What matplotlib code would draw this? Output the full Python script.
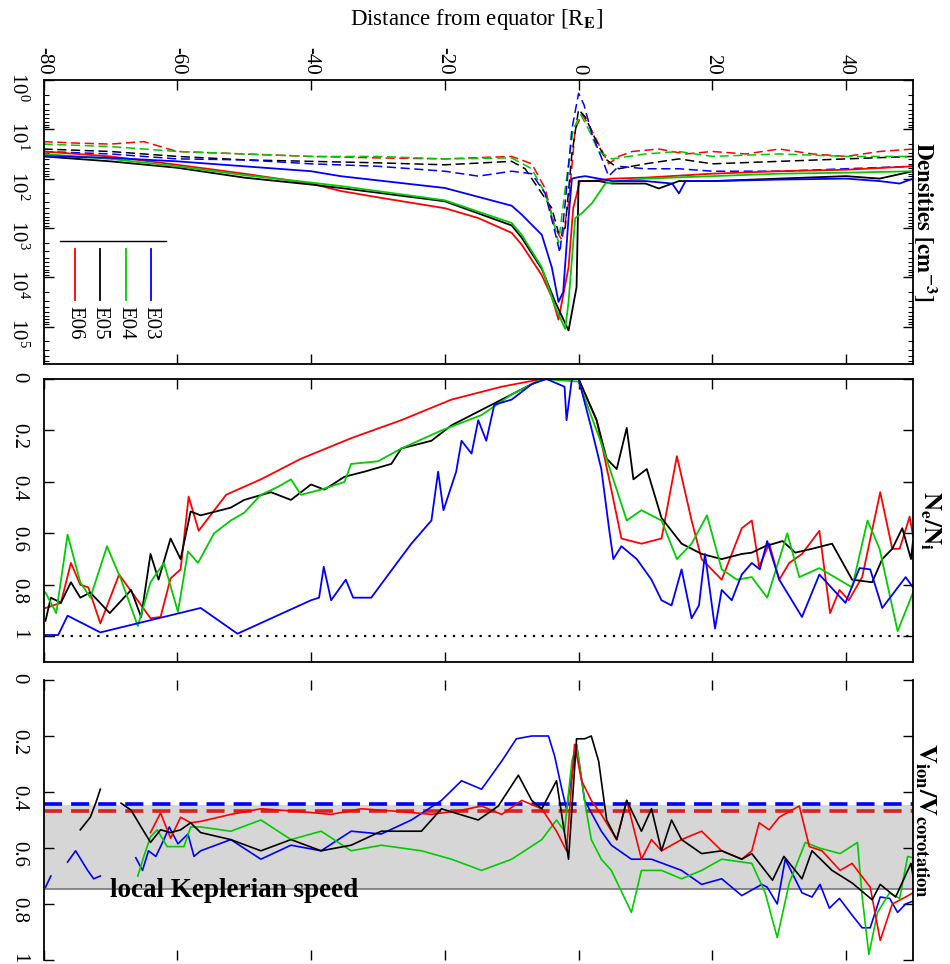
import numpy as np
import matplotlib
matplotlib.use("Agg")
import matplotlib.pyplot as plt
from matplotlib.ticker import LogLocator, NullFormatter, FixedLocator

plt.rcParams['font.family'] = ['Liberation Serif', 'DejaVu Serif']
plt.rcParams['mathtext.fontset'] = 'stix'
plt.rcParams['axes.unicode_minus'] = False

RED, BLACK, GREEN, BLUE = '#ff0000', '#000000', '#00cc00', '#0000ff'
series_names = ['E06', 'E05', 'E04', 'E03']
series_colors = [RED, BLACK, GREEN, BLUE]

# ---------------- Panel 1: densities (log10 of cm^-3) ----------------
d_red_x = [-80, -70, -60, -50, -40, -35.6, -30, -20, -15, -10, -8.5, -5.5, -4, -3, -1.5, -0.8, 0.2, 2, 5, 10, 20, 30, 40, 50]
d_red_y = [1.45, 1.55, 1.72, 1.9, 2.1, 2.25, 2.38, 2.6, 2.8, 3.1, 3.34, 3.96, 4.4, 4.86, 3.8, 2.6, 2.05, 2.05, 2.0, 1.98, 1.9, 1.85, 1.82, 1.75]
d_blk_x = [-80, -70, -60, -50, -40, -35.6, -20, -10, -8.5, -5.5, -3.5, -1.5, -0.3, 0, 1, 3, 5, 10, 12, 15, 20, 30, 40, 45, 50]
d_blk_y = [1.55, 1.65, 1.78, 1.98, 2.12, 2.19, 2.46, 2.95, 3.2, 3.83, 4.5, 5.08, 4.2, 2.05, 2.05, 2.05, 2.1, 2.1, 2.2, 2.05, 2.05, 2.0, 1.95, 2.0, 1.85]
d_grn_x = [-80, -70, -60, -50, -40, -35.6, -20, -10, -8.5, -5.5, -3.5, -2, -1.5, -0.5, 0.5, 2, 4, 6, 10, 20, 30, 40, 50]
d_grn_y = [1.5, 1.6, 1.75, 1.93, 2.08, 2.15, 2.44, 2.9, 3.14, 3.8, 4.6, 5.05, 4.5, 2.8, 2.7, 2.5, 2.1, 2.05, 2.0, 1.95, 1.9, 1.88, 1.85]
d_blu_x = [-80, -70, -60, -50, -40, -35.6, -20, -10, -8.5, -5.5, -4, -3, -2.3, -1.5, -1, 0, 1, 3, 5, 10, 14, 15, 16, 20, 30, 40, 45, 48, 50]
d_blu_y = [1.54, 1.58, 1.65, 1.75, 1.85, 1.95, 2.19, 2.55, 2.73, 3.14, 3.8, 4.5, 4.3, 2.8, 2.0, 1.97, 1.95, 2.0, 2.05, 2.05, 2.1, 2.3, 2.05, 2.05, 2.02, 2.0, 2.05, 2.1, 2.0]

dd_red_x = [-80, -75, -70, -65, -60, -50, -40, -30, -20, -10, -7, -5, -3.5, -2.5, -1.5, -0.5, 0.5, 1.5, 3, 4.5, 6, 8, 12, 16, 20, 25, 30, 35, 40, 45, 50]
dd_red_y = [1.25, 1.28, 1.3, 1.25, 1.45, 1.5, 1.55, 1.58, 1.6, 1.55, 1.7, 2.2, 3.0, 3.25, 2.5, 1.0, 0.7, 0.9, 1.3, 1.7, 1.55, 1.45, 1.4, 1.5, 1.45, 1.5, 1.4, 1.5, 1.55, 1.45, 1.4]
dd_blk_x = [-80, -70, -60, -50, -40, -30, -20, -10, -8, -6, -4, -3, -2, -1, 0, 1, 2.5, 4, 6, 10, 15, 20, 30, 40, 50]
dd_blk_y = [1.4, 1.45, 1.55, 1.62, 1.65, 1.68, 1.72, 1.65, 1.8, 2.2, 2.6, 3.1, 3.0, 1.5, 0.6, 0.75, 1.2, 1.6, 1.8, 1.7, 1.6, 1.7, 1.65, 1.6, 1.55]
dd_grn_x = [-80, -70, -60, -50, -40, -30, -20, -10, -7, -5, -3.5, -3, -2, -0.8, 0.3, 1.5, 3, 5, 10, 15, 20, 30, 40, 50]
dd_grn_y = [1.3, 1.35, 1.45, 1.5, 1.55, 1.55, 1.6, 1.58, 1.8, 2.3, 3.0, 3.3, 2.2, 1.0, 0.7, 1.0, 1.45, 1.6, 1.5, 1.45, 1.55, 1.5, 1.55, 1.55]
dd_blu_x = [-80, -70, -60, -50, -40, -30, -20, -15, -10, -7, -5, -3.5, -2.8, -2, -1, 0, 0.8, 2, 3.5, 4.5, 6, 10, 15, 20, 30, 40, 50]
dd_blu_y = [1.45, 1.5, 1.6, 1.62, 1.7, 1.75, 1.85, 1.95, 1.85, 1.9, 2.3, 3.1, 3.5, 2.5, 1.0, 0.27, 0.5, 1.1, 1.6, 1.95, 1.75, 1.8, 1.8, 1.85, 1.85, 1.8, 1.75]

# ---------------- Panel 2: Ne/Ni ----------------
r_red_x = [-79.7, -77.4, -75.9, -74.5, -73.3, -71.5, -68.7, -64.0, -62.5, -61.0, -59.5, -58.3, -56.8, -52.7, -47.5, -41.5, -34.0, -26.5, -19.0, -11.5, -5.5, 0, 2.7, 4.9, 6.4, 9.4, 12.4, 14.7, 16.9, 18.4, 21.4, 24.4, 25.9, 27.0, 28.5, 30.0, 31.5, 33.4, 36.0, 37.6, 39.0, 40.4, 42.4, 45.1, 46.9, 48.0, 49.5, 50]
r_red_y = [0.89, 0.87, 0.715, 0.80, 0.81, 0.95, 0.76, 0.93, 0.925, 0.775, 0.74, 0.457, 0.59, 0.45, 0.39, 0.31, 0.23, 0.16, 0.08, 0.03, 0.0, 0.0, 0.16, 0.43, 0.62, 0.64, 0.62, 0.30, 0.55, 0.70, 0.78, 0.58, 0.55, 0.73, 0.64, 0.78, 0.715, 0.68, 0.59, 0.91, 0.82, 0.86, 0.77, 0.44, 0.66, 0.66, 0.535, 0.61]
r_blk_x = [-79.7, -78.9, -77.4, -75.9, -74.5, -73.0, -70.1, -66.9, -65.4, -64.0, -62.8, -61.0, -59.5, -58.0, -56.5, -52.0, -50, -46, -43, -40, -38, -35, -32, -28, -26.5, -22, -19, -14.5, -10, -5.5, 0, 2.7, 4.2, 5.7, 7.2, 8.2, 10.2, 12.4, 15.4, 18.4, 21.4, 24.4, 25.9, 27.9, 30.5, 32.4, 34.9, 37.9, 40.9, 43.9, 45.4, 46.9, 48.4, 49.7, 50]
r_blk_y = [0.94, 0.85, 0.87, 0.79, 0.85, 0.83, 0.91, 0.82, 0.925, 0.68, 0.78, 0.62, 0.70, 0.515, 0.53, 0.50, 0.47, 0.44, 0.47, 0.41, 0.43, 0.38, 0.36, 0.33, 0.27, 0.24, 0.18, 0.12, 0.06, 0.0, 0.0, 0.16, 0.31, 0.35, 0.19, 0.39, 0.35, 0.54, 0.64, 0.68, 0.70, 0.68, 0.675, 0.65, 0.63, 0.675, 0.66, 0.64, 0.78, 0.79, 0.70, 0.66, 0.58, 0.70, 0.63]
r_grn_x = [-79.7, -78.1, -76.4, -74.5, -73.0, -70.5, -68.4, -65.9, -64.0, -62.0, -59.9, -58.4, -56.9, -54.5, -52, -50, -47.5, -45, -43, -41.5, -38.5, -35, -34, -30, -26.5, -20.5, -14.5, -10, -5.5, 0, 3.4, 5.7, 7.2, 9.4, 12.4, 14.7, 16.9, 19.2, 21.4, 23.7, 25.9, 28.2, 31.2, 33.0, 36.0, 40.9, 43.2, 45.0, 47.7, 50]
r_grn_y = [0.83, 0.91, 0.605, 0.79, 0.85, 0.65, 0.78, 0.96, 0.79, 0.715, 0.905, 0.67, 0.715, 0.6, 0.55, 0.52, 0.45, 0.42, 0.39, 0.45, 0.43, 0.40, 0.33, 0.32, 0.27, 0.2, 0.14, 0.06, 0.0, 0.01, 0.25, 0.43, 0.55, 0.51, 0.55, 0.70, 0.64, 0.53, 0.74, 0.78, 0.77, 0.85, 0.60, 0.77, 0.735, 0.81, 0.55, 0.66, 0.98, 0.83]
r_blu_x = [-79.7, -77.8, -76.4, -71.5, -56.5, -51.0, -40.0, -38.8, -38.1, -37.0, -34.8, -33.7, -31.0, -27.3, -25.0, -22.0, -21.0, -20.2, -18.3, -17.5, -16.0, -15.0, -13.8, -12.6, -10.0, -7.0, -4.8, -2.1, -1.8, -1.0, 0, 1.9, 3.4, 4.6, 5.2, 6.4, 8.7, 10.9, 12.4, 13.9, 15.4, 16.9, 18.0, 18.9, 20.4, 21.4, 22.9, 24.4, 25.9, 27.1, 28.2, 30.0, 33.4, 36.0, 39.9, 42.0, 43.6, 45.4, 48.9, 50]
r_blu_y = [0.995, 0.995, 0.92, 0.985, 0.89, 0.99, 0.86, 0.85, 0.73, 0.86, 0.78, 0.85, 0.85, 0.72, 0.64, 0.55, 0.36, 0.51, 0.36, 0.24, 0.29, 0.16, 0.24, 0.10, 0.08, 0.02, 0.0, 0.03, 0.16, 0.0, 0.0, 0.19, 0.35, 0.59, 0.70, 0.65, 0.70, 0.78, 0.86, 0.88, 0.74, 0.93, 0.88, 0.68, 0.97, 0.82, 0.86, 0.76, 0.715, 0.74, 0.63, 0.78, 0.925, 0.76, 0.87, 0.735, 0.74, 0.89, 0.77, 0.81]

# ---------------- Panel 3: Vion/Vcorotation ----------------
v_blu_x = [[-79.7, -78.9],
           [-76.4, -75.2, -73.4, -72.5, -71.5],
           [-66.2, -65.2, -64.3, -63.2, -62.0, -61.2, -59.9, -58.4, -57.5, -56.5, -52.0, -47.5, -43.0, -38.5, -34.0, -29.5, -25.0, -20.5, -17.5, -14.5, -11.5, -9.3, -7.0, -4.5, -3.6, -2.5, -1.8, -0.3, 0.9, 3.4, 4.9, 7.9, 10.9, 15.4, 18.4, 21.4, 24.4, 27.4, 28.2, 29.7, 30.9, 33.4, 34.9, 36.1, 37.5, 39.0, 40.9, 42.4, 43.6, 45.1, 46.5, 47.7, 48.9, 50]]
v_blu_y = [[0.74, 0.70],
           [0.65, 0.61, 0.68, 0.71, 0.70],
           [0.635, 0.68, 0.61, 0.63, 0.57, 0.525, 0.585, 0.55, 0.63, 0.61, 0.57, 0.64, 0.59, 0.61, 0.54, 0.55, 0.50, 0.43, 0.36, 0.39, 0.29, 0.21, 0.2, 0.2, 0.27, 0.39, 0.46, 0.23, 0.43, 0.54, 0.59, 0.64, 0.64, 0.68, 0.73, 0.71, 0.77, 0.73, 0.74, 0.8, 0.64, 0.76, 0.775, 0.73, 0.815, 0.78, 0.84, 0.885, 0.885, 0.775, 0.78, 0.83, 0.8, 0.79]]
v_blk_x = [[-74.5, -73.0, -72.2, -71.5],
           [-68.4, -66.9, -65.4, -64.0, -62.5, -61.0, -59.5, -58.0, -56.5, -52.0, -47.5, -43.0, -38.5, -34.0, -29.5, -23.5, -20.5, -15, -12, -9.0, -7.0, -5.5, -3.3, -1.5, -0.3, 0.9, 1.9, 3.0, 4.2, 5.7, 7.2, 9.4, 10.9, 12.4, 13.9, 15.4, 18.4, 21.4, 24.4, 25.9, 29.0, 30.7, 33.4, 34.9, 37.9, 40.9, 43.9, 45.1, 47.4, 49.7, 50]]
v_blk_y = [[0.535, 0.49, 0.44, 0.39],
           [0.44, 0.465, 0.525, 0.58, 0.535, 0.545, 0.535, 0.51, 0.545, 0.57, 0.61, 0.57, 0.61, 0.59, 0.54, 0.54, 0.46, 0.5, 0.45, 0.34, 0.43, 0.46, 0.36, 0.64, 0.21, 0.21, 0.2, 0.29, 0.5, 0.57, 0.43, 0.54, 0.46, 0.61, 0.5, 0.57, 0.62, 0.61, 0.64, 0.62, 0.715, 0.63, 0.71, 0.61, 0.68, 0.725, 0.785, 0.73, 0.775, 0.655, 0.70]]
v_red_x = [[-64.0, -62.5, -61.0, -59.5, -58.0, -56.5, -52.0, -47.5, -41.5, -37.0, -32.5, -26.5, -22.0, -17.5, -14.5, -11.5, -8.5, -5.5, -3.3, -1.8, -0.6, 0.45, 1.9, 3.4, 5.7, 7.2, 9.4, 10.9, 12.4, 15.4, 18.4, 21.4, 24.4, 25.9, 27.0, 28.5, 30.0, 33.0, 34.5, 36.4, 39.1, 40.9, 43.6, 45.1, 46.9, 48.9, 50]]
v_red_y = [[0.545, 0.475, 0.565, 0.49, 0.51, 0.505, 0.48, 0.46, 0.47, 0.48, 0.46, 0.47, 0.48, 0.465, 0.45, 0.48, 0.43, 0.46, 0.54, 0.61, 0.23, 0.36, 0.43, 0.48, 0.57, 0.43, 0.64, 0.57, 0.61, 0.57, 0.54, 0.61, 0.64, 0.61, 0.51, 0.535, 0.49, 0.45, 0.595, 0.61, 0.68, 0.655, 0.74, 0.93, 0.8, 0.775, 0.76]]
v_grn_x = [[-65.9, -65.0, -64.0, -63.0, -61.5, -59.0, -58.0, -56.5, -52.0, -47.5, -43.0, -38.5, -34.0, -29.5, -23.5, -19.0, -14.5, -10.0, -5.5, -3.3, -2.1, -1.0, -0.3, 0.9, 1.9, 3.4, 4.9, 7.9, 9.4, 12.4, 15.4, 18.4, 21.4, 25.9, 27.9, 29.7, 31.5, 33.9, 36.0, 39.1, 41.7, 42.4, 43.4, 44.7, 46.5, 48.0, 49.2, 50]]
v_grn_y = [[0.70, 0.63, 0.56, 0.535, 0.595, 0.595, 0.525, 0.525, 0.54, 0.5, 0.57, 0.54, 0.61, 0.59, 0.61, 0.64, 0.68, 0.64, 0.57, 0.5, 0.54, 0.29, 0.23, 0.43, 0.57, 0.64, 0.68, 0.83, 0.68, 0.68, 0.71, 0.68, 0.64, 0.655, 0.76, 0.92, 0.725, 0.58, 0.6, 0.62, 0.58, 0.775, 0.98, 0.83, 0.76, 0.78, 0.63, 0.635]]

kepler_band = (0.445, 0.745)
coro_blue, coro_red = 0.442, 0.467

xticks = [-80, -60, -40, -20, 0, 20, 40]
xlim = (-80, 50)

fig = plt.figure(figsize=(9.5, 9.64), dpi=100)
L, W = 43.5 / 950, 869.5 / 950
ax1 = fig.add_axes([L, 1 - 364 / 964, W, 284 / 964])
ax2 = fig.add_axes([L, 1 - 662 / 964, W, 283 / 964])
ax3 = fig.add_axes([L, 1 - 960 / 964, W, 280 / 964])

FS = 15
for ax in (ax1, ax2, ax3):
    ax.set_xlim(*xlim)
    ax.set_xticks(xticks)
    ax.tick_params(axis='x', which='both', direction='in', top=True, bottom=True,
                   labelbottom=False, labeltop=False, length=7, width=1)
    ax.tick_params(axis='y', which='major', direction='in', left=True, right=True,
                   length=7, width=1, labelrotation=-90, labelsize=FS, pad=11)
    for s in ax.spines.values():
        s.set_linewidth(1.3)

ax1.tick_params(axis='x', labeltop=True, labelrotation=-90, labelsize=FS, pad=4)

# Panel 1
ax1.set_yscale('log')
ax1.set_ylim(10 ** 5.76, 1)
ax1.yaxis.set_major_locator(FixedLocator([1, 1e1, 1e2, 1e3, 1e4, 1e5]))
ax1.yaxis.set_minor_locator(LogLocator(base=10, subs=np.arange(2, 10)))
ax1.yaxis.set_minor_formatter(NullFormatter())
ax1.tick_params(axis='y', which='minor', direction='in', left=True, right=True, length=3.5, width=0.8)
solid = [(d_red_x, d_red_y), (d_blk_x, d_blk_y), (d_grn_x, d_grn_y), (d_blu_x, d_blu_y)]
dashed = [(dd_red_x, dd_red_y), (dd_blk_x, dd_blk_y), (dd_grn_x, dd_grn_y), (dd_blu_x, dd_blu_y)]
for (xs, ys), c in zip(dashed, series_colors):
    ax1.plot(xs, 10 ** np.array(ys), color=c, lw=1.1, ls=(0, (6, 3)))
for (xs, ys), c in zip(solid, series_colors):
    ax1.plot(xs, 10 ** np.array(ys), color=c, lw=1.3)
# legend (rotated layout)
ax1.plot([0.019, 0.141], [0.433, 0.433], color='black', lw=1, transform=ax1.transAxes)
for i, (name, c) in enumerate(zip(series_names, series_colors)):
    xf = 0.036 + i * 0.0293
    ax1.plot([xf, xf], [0.405, 0.225], color=c, lw=1.3, transform=ax1.transAxes)
    ax1.text(xf, 0.205, name, rotation=-90, ha='center', va='top', fontsize=FS,
             transform=ax1.transAxes)
ax1.text(1.0138, 0.5, r'$\mathbf{Densities\ [cm^{-3}]}$', rotation=-90, ha='center',
         va='center', fontsize=16.5, transform=ax1.transAxes)

# Panel 2
ax2.set_ylim(1.1, 0)
ax2.set_yticks([0, 0.2, 0.4, 0.6, 0.8, 1])
ax2.set_yticklabels(['0', '0.2', '0.4', '0.6', '0.8', '1'])
ax2.plot(list(xlim), [1, 1], color='black', lw=1.6, ls=(0, (1, 3)))
for xs, ys, c in [(r_red_x, r_red_y, RED), (r_blk_x, r_blk_y, BLACK),
                  (r_grn_x, r_grn_y, GREEN), (r_blu_x, r_blu_y, BLUE)]:
    ax2.plot(xs, ys, color=c, lw=1.3)
ax2.text(1.02, 0.5, r'$\mathbf{N_e/N_i}$', rotation=-90, ha='center', va='center',
         fontsize=18, transform=ax2.transAxes)

# Panel 3
ax3.set_ylim(1, 0)
ax3.set_yticks([0, 0.2, 0.4, 0.6, 0.8, 1])
ax3.set_yticklabels(['0', '0.2', '0.4', '0.6', '0.8', '1'])
ax3.spines['top'].set_visible(False)
ax3.spines['bottom'].set_visible(False)
ax3.axhspan(kepler_band[0], kepler_band[1], color='#d6d6d6', lw=0, zorder=0)
ax3.axhline(kepler_band[1], color='#777777', lw=1.2, zorder=1)
ax3.axhline(coro_blue, color=BLUE, lw=2.6, ls=(0, (5, 2.5)), zorder=1)
ax3.axhline(coro_red, color='#dd2020', lw=2.6, ls=(0, (5, 2.5)), zorder=1)
for segx, segy, c in [(v_blu_x, v_blu_y, BLUE), (v_grn_x, v_grn_y, GREEN),
                      (v_red_x, v_red_y, RED), (v_blk_x, v_blk_y, BLACK)]:
    for xs, ys in zip(segx, segy):
        ax3.plot(xs, ys, color=c, lw=1.2, zorder=2)
ax3.text(-70.0, 0.752, 'local Keplerian speed', fontsize=19.5, fontweight='bold',
         ha='left', va='center', zorder=3)
ax3.text(1.0138, 0.5, r'$\mathbf{V_{ion}/V_{corotation}}$', rotation=-90, ha='center',
         va='center', fontsize=19, transform=ax3.transAxes)

fig.text(477 / 950, 1 - 20 / 964, r'Distance from equator [R$_\mathbf{E}$]', ha='center',
         va='center', fontsize=16.5)

fig.savefig('out.png', dpi=100)
